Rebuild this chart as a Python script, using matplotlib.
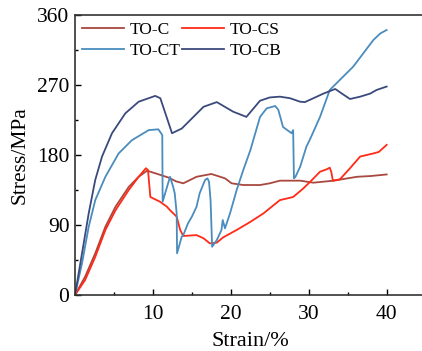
import matplotlib
matplotlib.use("Agg")
import matplotlib.pyplot as plt
from matplotlib.ticker import MultipleLocator

# ---- data ----
c_strain = [0, 1.3, 2.6, 3.9, 5.2, 6.9, 8.17, 9.24, 10.3, 12.0, 13.0, 13.9, 15.6, 17.5, 19.25, 20.1, 21.6, 23.75,
            25.0, 26.3, 28.9, 30.6, 33.2, 36.2, 38.0, 40]
c_stress = [0, 23.6, 53.6, 87.8, 113.5, 139, 152, 159.8, 156.5, 151, 146, 143.6, 152, 155.6, 150, 143.6, 141.4, 141.4,
            143.6, 147, 147, 144.4, 147, 152, 153, 155]

cs_strain = [0, 1.3, 2.6, 3.9, 5.2, 6.9, 8.17, 9.1, 9.37, 9.67, 10.9, 11.8, 12.2, 13.05, 13.5, 13.9, 15.6, 16.5, 17.3,
             18.2, 19.0, 20.75, 22.5, 24.2, 25.0, 26.3, 28.0, 29.3, 30.2, 31.45, 32.3, 32.7, 32.9, 33.1, 34.0, 35.3,
             36.6, 38.3, 39.0, 40]
cs_stress = [0, 19.3, 49, 83.6, 109, 135, 152, 163, 160.7, 126, 120, 113.5, 109, 100.7, 83.6, 75.9, 77, 72.9, 66.4,
             67.3, 74, 83.6, 94, 105, 111.5, 122, 126, 137, 145.7, 158.5, 161.6, 163.7, 158, 147, 148.7, 163,
             178, 182, 184, 193]

ct_strain = [0, 0.9, 1.76, 2.6, 3.9, 5.6, 7.3, 9.46, 10.7, 11.2, 11.25, 12.2, 12.6, 12.8, 13.05, 13.1, 13.7, 13.9,
             14.5, 15.0, 15.6, 16.0, 16.7, 17.0, 17.2, 17.4, 17.6, 18.2, 18.8, 18.96, 19.25, 19.9, 20.75, 21.6, 22.5,
             23.75, 24.6, 25.7, 26.1, 26.7, 27.8, 28.0, 28.1, 28.3, 28.9, 29.7, 30.2, 31.45, 32.7, 34.2, 35.7,
             37.0, 38.3, 39.2, 40]
ct_stress = [0, 40.7, 87.8, 122, 152, 182, 199, 212, 213, 205.7, 120, 152, 139, 130.8, 105, 53.6, 75, 77,
             92, 100.7, 113.5, 130.8, 148, 150, 145.7, 122, 62, 70.7, 83.6, 96.4, 85.7, 105, 135, 160.7, 186,
             229, 240, 243, 238, 216, 208, 212, 150, 152, 165, 190.7, 201, 229, 263.6, 278.6, 293.5,
             310.7, 327.9, 336.4, 340.7]

cb_strain = [0, 0.9, 1.76, 2.6, 3.47, 4.75, 6.46, 8.17, 10.3, 10.95, 11.6, 12.45, 13.7, 14.8, 16.5, 18.2, 20.3,
             22.0, 23.75, 25.0, 26.3, 27.6, 28.9, 29.5, 30.6, 31.9, 33.4, 34.4, 35.3, 36.6, 37.9, 38.7, 40]
cb_stress = [0, 53.6, 105, 148, 178, 208, 233.6, 248.5, 256, 253, 233.6, 208, 214, 225, 242, 248, 235.7,
             229, 249.8, 254, 255, 253, 248.5, 248, 253, 259, 264.9, 258, 252, 255, 259, 263.6, 268]

labels = ["TO-C", "TO-CS", "TO-CT", "TO-CB"]
colors = ["#a8483e", "#ff2a18", "#4a8cbd", "#3b4a7c"]

x_ticks = [10, 20, 30, 40]
y_ticks = [0, 90, 180, 270, 360]

plt.rcParams['font.family'] = ['Liberation Serif', 'DejaVu Serif']
fig = plt.figure(figsize=(4.22, 3.51), dpi=100)
ax = fig.add_axes([75 / 422, 56 / 351, 350.6 / 422, 280 / 351])

series = [(c_strain, c_stress), (cs_strain, cs_stress), (ct_strain, ct_stress), (cb_strain, cb_stress)]
handles = []
for (xs, ys), lab, col in zip(series, labels, colors):
    h, = ax.plot(xs, ys, color=col, lw=1.3, label=lab)
    handles.append(h)

ax.set_xlim(0, 45)
ax.set_ylim(0, 360)
ax.set_xticks(x_ticks)
ax.set_yticks(y_ticks)
ax.xaxis.set_minor_locator(MultipleLocator(5))
ax.yaxis.set_minor_locator(MultipleLocator(45))
ax.tick_params(which='both', direction='in', labelsize=15.5, top=False, right=False)
ax.tick_params(which='major', length=4, width=1)
ax.tick_params(which='minor', length=2.5, width=1)
ax.tick_params(axis='x', pad=7)
ax.tick_params(axis='y', pad=4)
for sp in ax.spines.values():
    sp.set_linewidth(1.2)
    sp.set_color('#333333')

ax.set_xlabel("Strain/%", fontsize=16, labelpad=6)
ax.set_ylabel("Stress/MPa", fontsize=15.5, labelpad=5)

# row-wise legend: TO-C, TO-CS / TO-CT, TO-CB
order = [0, 2, 1, 3]
ax.legend([handles[i] for i in order], [labels[i] for i in order], ncol=2, loc='upper left',
          frameon=False, fontsize=12.5, handlelength=2.4, columnspacing=0.1, handletextpad=0.35,
          labelspacing=0.25, borderaxespad=0.0, bbox_to_anchor=(0.0, 1.0))

fig.savefig("out.png", dpi=100)
